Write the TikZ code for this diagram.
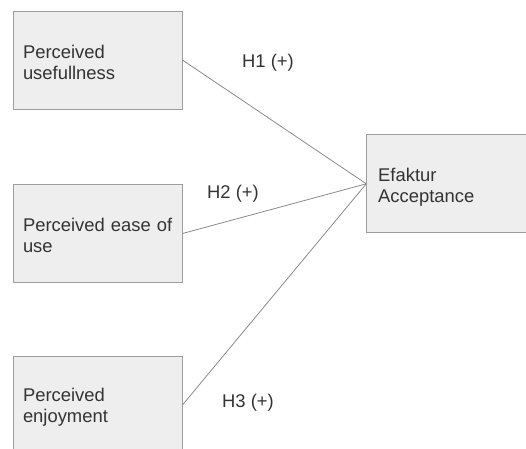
\documentclass[tikz,border=0pt]{standalone}
\usepackage{fontspec}
\setmainfont{Liberation Sans}
\usepackage{tikz}

\definecolor{boxfill}{HTML}{EEEEEE}
\definecolor{boxline}{HTML}{9E9E9E}
\definecolor{linkline}{HTML}{8A8A8A}
\definecolor{inktext}{HTML}{333333}

\begin{document}
\begin{tikzpicture}[x=1pt, y=-1pt,
        var/.style = {draw=boxline, fill=boxfill, line width=0.9pt, rectangle,
            minimum width=169pt, minimum height=98pt, text width=149pt,
            inner sep=10pt, align=left, text=inktext,
            font=\fontsize{18.4}{21.2}\selectfont,
            execute at begin node={\rule{0pt}{17.5pt}}},
        hyp/.style = {text=inktext, font=\fontsize{18.4}{21.2}\selectfont},
        link/.style = {draw=linkline, line width=0.8pt}]
        \useasboundingbox (0,0) rectangle (526,448);
        \clip (0,0) rectangle (526,448);
        \node[var] (pu) at (97.5,60) {Perceived\\usefullness};
        \node[var] (peou) at (97.5,233.5) {\mbox{Perceived ease of}\\use};
        \node[var] (pe) at (97.5,405) {Perceived\\enjoyment};
        \node[var, text width=147pt, inner sep=11.5pt,
            execute at begin node={\rule{0pt}{21pt}}] (acc) at (451.7,183.8) {Efaktur\\Acceptance};
        \draw[link] (pu.east) -- (acc.west);
        \draw[link] (peou.east) -- (acc.west);
        \draw[link] (pe.east) -- (acc.west);
        \node[hyp] (h1) at (268,63) {H1 (+)};
        \node[hyp] (h2) at (233,194) {H2 (+)};
        \node[hyp] (h3) at (248,403) {H3 (+)};
    \end{tikzpicture}
\end{document}
